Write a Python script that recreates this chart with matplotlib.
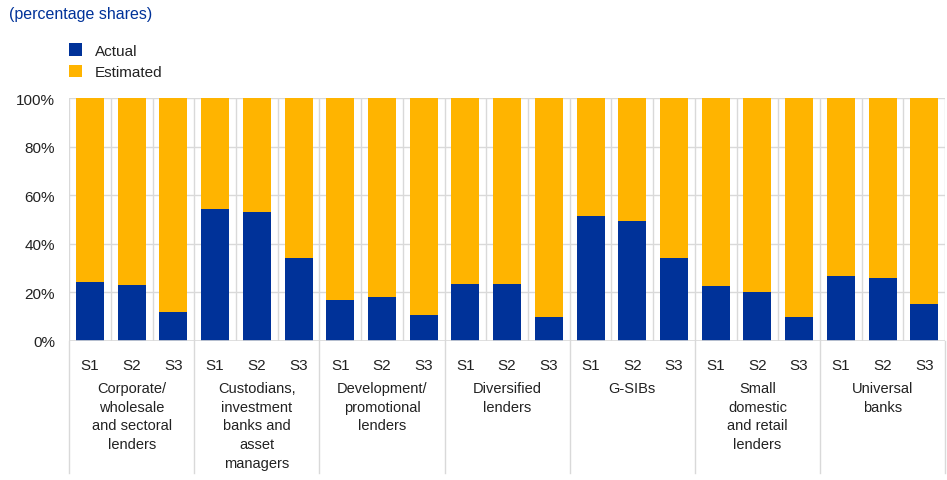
import matplotlib.pyplot as plt
import numpy as np

plt.rcParams['font.family'] = ['Liberation Sans', 'DejaVu Sans']

# Grupos de bancos e cenarios
grupos = ["Corporate/\nwholesale\nand sectoral\nlenders",
          "Custodians,\ninvestment\nbanks and\nasset\nmanagers",
          "Development/\npromotional\nlenders",
          "Diversified\nlenders",
          "G-SIBs",
          "Small\ndomestic\nand retail\nlenders",
          "Universal\nbanks"]
cenarios = ["S1", "S2", "S3"]

# parte "Actual" (%), o resto e "Estimated"
actual = [24.3, 23.0, 12.0,
          54.3, 53.0, 34.0,
          17.0, 18.0, 10.7,
          23.5, 23.5, 10.0,
          51.6, 49.2, 34.0,
          22.5, 20.0, 9.9,
          26.9, 25.9, 15.2]
estimated = [100 - a for a in actual]

azul = "#003299"
amarelo = "#FFB400"
cinza = "#d9d9d9"
texto = "#222222"

fig = plt.figure(figsize=(9.47, 4.81), dpi=100)
ax = fig.add_axes([0.073, 0.289, 0.925, 0.505])

n = len(actual)
x = np.arange(n)
ax.bar(x, actual, width=0.67, color=azul, label="Actual", zorder=3)
ax.bar(x, estimated, width=0.67, bottom=actual, color=amarelo, label="Estimated", zorder=3)

ax.set_xlim(-0.5, n - 0.5)
ax.set_ylim(0, 100)
ax.set_yticks(range(0, 101, 20))
ax.set_yticklabels([f"{v}%" for v in range(0, 101, 20)], fontsize=11, color=texto)

# grade
for v in range(20, 101, 20):
    ax.axhline(v, color=cinza, lw=1, zorder=1)
for i in range(n + 1):
    ax.axvline(i - 0.5, color=cinza, lw=1, zorder=1)

ax.set_xticks(x)
ax.set_xticklabels(cenarios * len(grupos), fontsize=11, color=texto)
ax.tick_params(axis="y", length=0, pad=10)
ax.tick_params(axis="x", length=0, pad=12)
for s in ax.spines.values():
    s.set_visible(False)
ax.axhline(0, color=cinza, lw=1.2, zorder=4)

# separadores dos grupos e nomes
trans = ax.get_xaxis_transform()
for g in range(len(grupos) + 1):
    ax.plot([3 * g - 0.5, 3 * g - 0.5], [0, -0.545], transform=trans,
            color=cinza, lw=1, clip_on=False)
for g, nome in enumerate(grupos):
    ax.text(3 * g + 1, -0.165, nome, transform=trans, ha="center", va="top",
            fontsize=10.5, color=texto, linespacing=1.42)

fig.text(0.010, 0.985, "(percentage shares)", color=azul, fontsize=11.5, va="top")

leg = fig.legend(loc="upper left", bbox_to_anchor=(0.058, 0.937), frameon=False,
                 fontsize=11, handlelength=0.9, handleheight=0.9,
                 handletextpad=0.8, labelspacing=0.45)
for t in leg.get_texts():
    t.set_color(texto)

fig.savefig("out.png", dpi=100)
